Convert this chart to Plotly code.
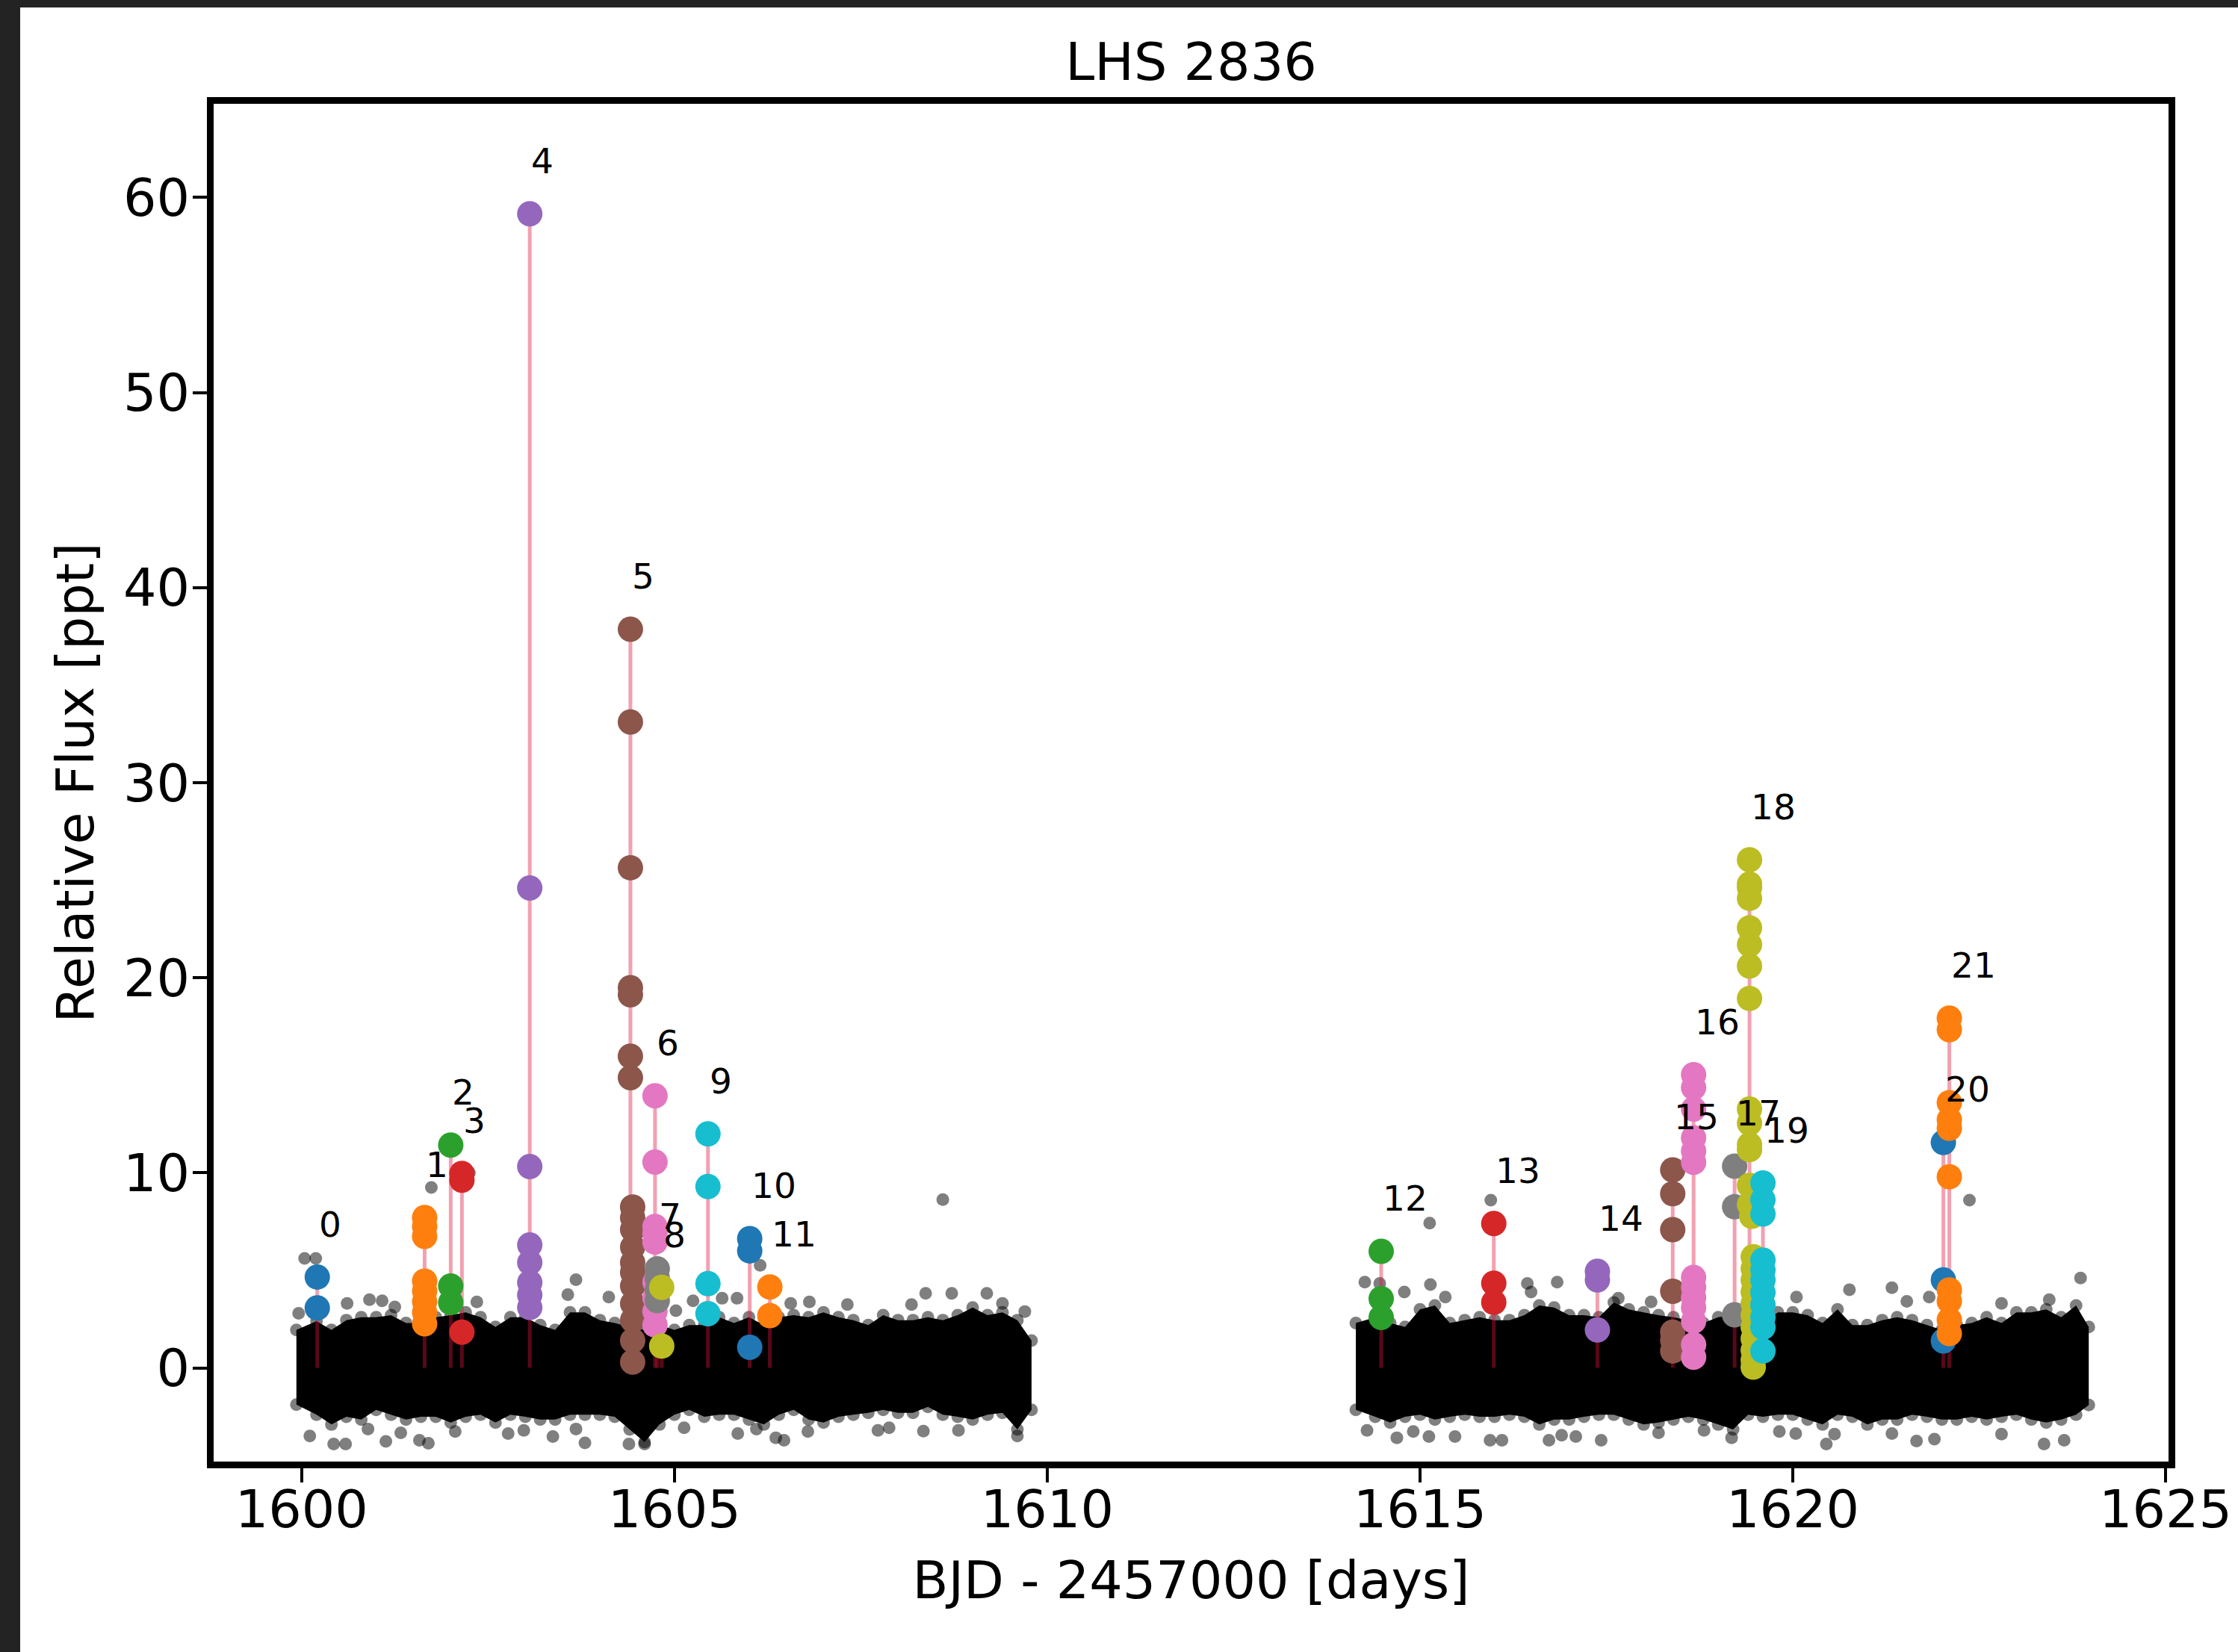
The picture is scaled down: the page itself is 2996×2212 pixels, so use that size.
import plotly.graph_objects as go

# ------------------------------------------------------------------ data
title_text = "LHS 2836"
x_label = "BJD - 2457000 [days]"
y_label = "Relative Flux [ppt]"
x_ticks = [1600, 1605, 1610, 1615, 1620, 1625]
y_ticks = [0, 10, 20, 30, 40, 50, 60]

# light-curve envelope (dense black band), segment 1
band1_t = [1599.93, 1600.2, 1600.4, 1600.6, 1600.8, 1601.0, 1601.2, 1601.4, 1601.6, 1601.8,
           1602.0, 1602.2, 1602.4, 1602.6, 1602.8, 1603.0, 1603.2, 1603.4, 1603.6, 1603.8,
           1604.0, 1604.2, 1604.4, 1604.6, 1604.8, 1605.0, 1605.2, 1605.4, 1605.6, 1605.8,
           1606.0, 1606.2, 1606.4, 1606.6, 1606.8, 1607.0, 1607.2, 1607.4, 1607.6, 1607.8,
           1608.0, 1608.2, 1608.4, 1608.6, 1608.8, 1609.0, 1609.2, 1609.4, 1609.6, 1609.79]
band1_hi = [1.95, 2.4, 1.95, 2.45, 2.6, 2.6, 2.7, 2.3, 2.3, 2.6,
            2.7, 2.85, 2.6, 2.1, 2.6, 2.6, 2.2, 1.95, 2.85, 2.85,
            2.45, 2.3, 2.1, 1.95, 2.2, 1.95, 2.2, 2.2, 2.6, 2.3,
            2.6, 2.2, 2.6, 2.7, 2.6, 2.85, 2.6, 2.45, 2.2, 2.7,
            2.45, 2.45, 2.6, 2.45, 2.7, 3.1, 2.7, 2.85, 2.45, 1.4]
band1_lo = [-1.88, -2.4, -2.9, -2.5, -2.65, -2.15, -2.4, -2.65, -2.5, -2.5,
            -2.8, -2.5, -2.4, -2.8, -2.4, -2.5, -2.65, -2.65, -2.4, -2.4,
            -2.4, -2.5, -3.15, -3.8, -2.9, -2.4, -2.15, -2.5, -2.4, -2.4,
            -2.65, -2.9, -2.4, -2.15, -2.65, -2.8, -2.5, -2.4, -2.3, -2.15,
            -2.3, -2.3, -2.0, -2.4, -2.5, -2.65, -2.4, -2.3, -3.15, -2.15]

# light-curve envelope, segment 2
band2_t = [1614.14, 1614.4, 1614.6, 1614.8, 1615.0, 1615.2, 1615.4, 1615.6, 1615.8, 1616.0,
           1616.2, 1616.4, 1616.6, 1616.8, 1617.0, 1617.2, 1617.4, 1617.6, 1617.8, 1618.0,
           1618.2, 1618.4, 1618.6, 1618.8, 1619.0, 1619.2, 1619.4, 1619.6, 1619.8, 1620.0,
           1620.2, 1620.4, 1620.6, 1620.8, 1621.0, 1621.2, 1621.4, 1621.6, 1621.8, 1622.0,
           1622.2, 1622.4, 1622.6, 1622.8, 1623.0, 1623.2, 1623.4, 1623.6, 1623.8, 1623.97]
band2_hi = [2.3, 2.6, 2.3, 2.1, 3.0, 3.2, 2.3, 2.45, 2.6, 2.45,
            2.45, 2.7, 3.2, 3.1, 2.7, 2.7, 2.6, 3.35, 3.0, 2.85,
            2.7, 2.6, 2.45, 2.3, 2.6, 2.7, 2.45, 2.3, 2.85, 2.85,
            2.7, 2.3, 3.0, 2.2, 2.2, 2.45, 2.6, 2.45, 2.2, 1.95,
            2.2, 2.3, 2.6, 2.3, 2.85, 2.85, 3.0, 2.6, 3.2, 2.1]
band2_lo = [-2.15, -2.5, -2.8, -2.5, -2.4, -2.65, -2.5, -2.4, -2.5, -2.5,
            -2.4, -2.5, -2.9, -2.65, -2.65, -2.5, -2.4, -2.4, -2.65, -2.9,
            -2.8, -2.65, -2.5, -2.65, -2.9, -3.15, -2.4, -2.5, -2.4, -2.4,
            -2.65, -2.9, -2.4, -2.5, -2.9, -2.65, -2.65, -2.4, -2.5, -2.65,
            -2.65, -2.5, -2.65, -2.5, -2.4, -2.65, -2.8, -2.65, -2.4, -1.9]

# isolated light-curve points outside the dense band
outlier_t = [1600.04, 1600.19, 1599.96, 1600.61, 1600.91, 1601.08, 1601.25, 1602.35, 1603.68, 1603.57,
             1604.12, 1600.11, 1600.43, 1600.59, 1600.89, 1601.13, 1601.33, 1601.58, 1601.70, 1602.06,
             1602.77, 1602.98, 1603.37, 1603.68, 1603.80, 1604.39, 1604.60, 1601.74, 1602.25, 1606.15,
             1608.60, 1615.13, 1615.95, 1622.37, 1623.86,
             1605.02, 1605.25, 1605.64, 1605.84, 1606.56, 1606.81, 1607.32, 1608.18, 1608.37, 1608.72,
             1609.19, 1609.40, 1609.70, 1605.13, 1605.85, 1606.10, 1606.47, 1606.36, 1606.79, 1607.73,
             1607.88, 1608.34, 1608.81, 1609.60,
             1614.26, 1614.46, 1614.79, 1615.14, 1615.34, 1616.44, 1616.49, 1616.84, 1617.66, 1618.10,
             1614.29, 1614.69, 1614.91, 1615.12, 1615.47, 1615.94, 1616.10, 1616.73, 1616.90, 1617.09,
             1617.43, 1618.20, 1618.81, 1619.18,
             1620.05, 1620.76, 1621.33, 1621.53, 1621.83, 1622.80, 1623.44, 1619.82, 1620.04, 1620.45,
             1620.56, 1621.33, 1621.66, 1621.90, 1622.80, 1623.37, 1623.64]
outlier_f = [5.61, 5.61, 2.80, 3.31, 3.50, 3.44, 3.12, 3.38, 4.52, 3.76,
             3.63, -3.49, -3.90, -3.90, -3.13, -3.77, -3.33, -3.71, -3.86, -3.26,
             -3.36, -3.20, -3.52, -3.13, -3.84, -3.90, -3.90, 9.25, 10.01, 5.26,
             8.63, 7.42, 8.60, 8.60, 4.61,
             2.93, 3.44, 3.57, 3.57, 3.31, 3.38, 3.25, 3.25, 3.82, 3.82,
             3.82, 3.31, 2.89, -3.07, -3.36, -3.13, -3.71, -3.58, -3.26, -3.20,
             -3.07, -3.24, -3.20, -3.49,
             4.40, 4.33, 3.89, 4.27, 3.63, 4.33, 3.89, 4.40, 3.57, 3.38,
             -3.20, -3.58, -3.26, -3.52, -3.52, -3.71, -3.71, -3.71, -3.45, -3.52,
             -3.71, -3.33, -3.20, -3.58,
             3.63, 4.01, 4.11, 3.41, 3.63, 3.31, 3.50, -3.26, -3.36, -3.90,
             -3.39, -3.36, -3.75, -3.65, -3.39, -3.90, -3.71]

# detected flares: per-flare point times and fluxes (ppt)
flare_t = [
    [1600.21] * 2,
    [1601.65] * 8,
    [1602.00] * 3,
    [1602.15] * 3,
    [1603.06] * 8,
    [1604.41] * 7 + [1604.44] * 11,
    [1604.74] * 9,
    [1604.77] * 4,
    [1604.83] * 2,
    [1605.45] * 4,
    [1606.01] * 3,
    [1606.28] * 2,
    [1614.48] * 3,
    [1615.99] * 3,
    [1617.38] * 3,
    [1618.39] * 7,
    [1618.67] * 13,
    [1619.22] * 3,
    [1619.42] * 14 + [1619.45] * 1 + [1619.47] * 11,
    [1619.60] * 11,
    [1622.02] * 3,
    [1622.10] * 10,
]
flare_f = [
    [4.66, 3.08],
    [7.71, 7.25, 6.74, 4.45, 3.95, 3.40, 2.85, 2.26],
    [11.42, 4.20, 3.35],
    [9.97, 9.62, 1.83],
    [59.16, 24.60, 10.32, 6.30, 5.40, 4.38, 3.74, 3.10],
    [37.87, 33.11, 25.64, 19.49, 19.13, 15.98, 14.88,
     8.25, 7.70, 7.10, 6.20, 5.40, 4.90, 4.20, 3.30, 2.45, 1.40, 0.30],
    [13.95, 10.55, 7.25, 6.90, 6.45, 4.40, 3.60, 2.90, 2.20],
    [5.08, 4.60, 4.00, 3.45],
    [4.13, 1.12],
    [12.00, 9.30, 4.32, 2.78],
    [6.63, 6.00, 1.06],
    [4.15, 2.68],
    [5.98, 3.55, 2.59],
    [7.40, 4.34, 3.36],
    [4.95, 4.51, 1.95],
    [10.15, 8.93, 7.09, 3.93, 1.83, 1.40, 0.87],
    [15.03, 14.37, 13.27, 11.80, 11.12, 10.54, 4.64, 4.12, 3.60, 3.10, 2.40, 1.19, 0.55],
    [10.34, 8.26, 2.72],
    [26.05, 24.80, 24.63, 24.07, 22.56, 21.70, 20.60, 18.94, 13.27, 12.54, 11.44, 11.19, 9.36, 8.38,
     7.77,
     5.70, 5.10, 4.50, 3.90, 3.30, 2.70, 2.10, 1.50, 0.90, 0.40, 0.04],
    [9.48, 8.62, 7.89, 5.53, 5.02, 4.50, 3.87, 3.23, 2.59, 2.08, 0.87],
    [11.56, 4.51, 1.38],
    [17.93, 17.34, 13.60, 12.72, 12.28, 9.80, 4.00, 3.42, 2.46, 1.76],
]
flare_labels = [str(i) for i in range(len(flare_f))]
label_offset = 2.0  # ppt above the peak

tab10 = ["#1f77b4", "#ff7f0e", "#2ca02c", "#d62728", "#9467bd",
         "#8c564b", "#e377c2", "#7f7f7f", "#bcbd22", "#17becf"]

# ------------------------------------------------------------------ layout geometry
W, H = 2996, 2212
ML, MR, MT, MB = 286, 93, 139, 255
PW, PH = W - ML - MR, H - MT - MB
FONT = "DejaVu Sans"
DOT = "rgba(0,0,0,0.5)"

fig = go.Figure()

# dense light-curve band: filled core plus semi-transparent dots along its edges
for t, hi, lo in [(band1_t, band1_hi, band1_lo), (band2_t, band2_hi, band2_lo)]:
    fig.add_trace(go.Scatter(
        x=t + t[::-1], y=hi + lo[::-1], fill="toself", fillcolor="black",
        mode="lines", line=dict(color="black", width=0),
        hoverinfo="skip", showlegend=False))
    fig.add_trace(go.Scatter(
        x=t + t, y=hi + lo, mode="markers",
        marker=dict(size=17, color=DOT, line=dict(width=0)),
        hoverinfo="skip", showlegend=False))

# isolated points
fig.add_trace(go.Scatter(
    x=outlier_t, y=outlier_f, mode="markers",
    marker=dict(size=17, color=DOT, line=dict(width=0)),
    hoverinfo="skip", showlegend=False))

# stems from 0 to each flare peak
stem_x, stem_y, peaks = [], [], []
for t, f in zip(flare_t, flare_f):
    k = max(range(len(f)), key=lambda j: f[j])
    peaks.append((t[k], f[k]))
    stem_x += [t[k], t[k], None]
    stem_y += [0, f[k], None]
fig.add_trace(go.Scatter(
    x=stem_x, y=stem_y, mode="lines",
    line=dict(color="rgba(220,20,60,0.4)", width=5),
    hoverinfo="skip", showlegend=False))

# flare points
for i, (t, f) in enumerate(zip(flare_t, flare_f)):
    fig.add_trace(go.Scatter(
        x=t, y=f, mode="markers",
        marker=dict(size=34, color=tab10[i % 10], line=dict(width=0)),
        hoverinfo="skip", showlegend=False))

# flare numbers
annotations = []
for lab, (tp, fp) in zip(flare_labels, peaks):
    annotations.append(dict(
        x=tp, y=fp + label_offset, xref="x", yref="y", text=lab,
        showarrow=False, xanchor="left", yanchor="bottom", yshift=-11,
        font=dict(family=FONT, size=47, color="black")))

# dark strips at the top and left edges of the picture
def px_x(X):
    return (X - ML) / PW

def px_y(Y):
    return (H - MB - Y) / PH

shapes = [
    dict(type="rect", xref="paper", yref="paper", x0=px_x(0), x1=px_x(W), y0=px_y(10), y1=px_y(0),
         fillcolor="#232323", line=dict(width=0), layer="above"),
    dict(type="rect", xref="paper", yref="paper", x0=px_x(0), x1=px_x(27), y0=px_y(H), y1=px_y(0),
         fillcolor="#232323", line=dict(width=0), layer="above"),
]

axis_common = dict(
    showline=True, linewidth=9, linecolor="black", mirror=True,
    ticks="outside", ticklen=19, tickwidth=4, tickcolor="black",
    showgrid=False, zeroline=False,
    tickfont=dict(family=FONT, size=70, color="black"),
)

fig.update_layout(
    width=W, height=H,
    margin=dict(l=ML, r=MR, t=MT, b=MB, autoexpand=False),
    paper_bgcolor="white", plot_bgcolor="white",
    font=dict(family=FONT, color="black"),
    title=dict(text=title_text, x=1594.5 / W, xanchor="center",
               y=1 - 82 / H, yanchor="middle", yref="container",
               font=dict(family=FONT, size=70, color="black")),
    xaxis=dict(range=[1598.82, 1625.04], tickvals=x_ticks, ticklabelstandoff=-24,
               title=dict(text=x_label, font=dict(family=FONT, size=70), standoff=33),
               **axis_common),
    yaxis=dict(range=[-4.8, 64.8], tickvals=y_ticks, ticklabelstandoff=-10,
               title=dict(text=y_label, font=dict(family=FONT, size=70), standoff=20),
               **axis_common),
    annotations=annotations,
    shapes=shapes,
    showlegend=False,
)

fig.write_html("out.html")
